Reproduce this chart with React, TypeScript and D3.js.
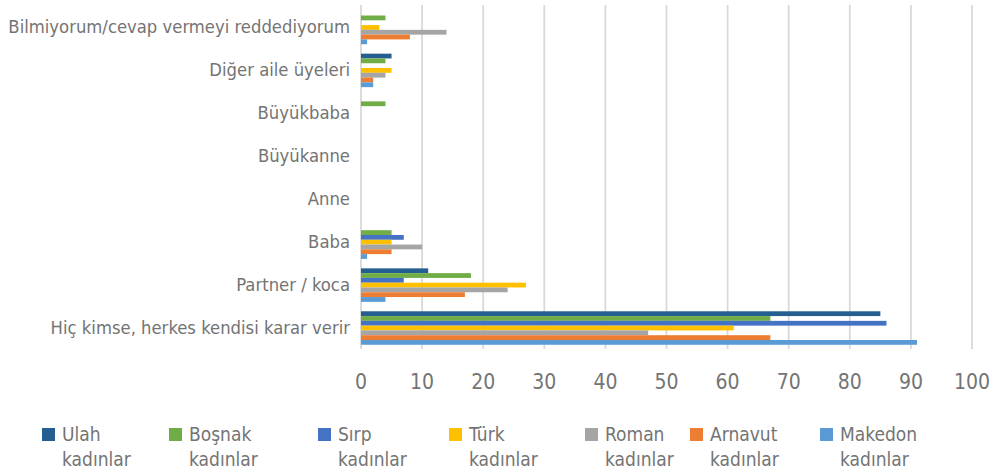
import React from "react";
import * as d3 from "d3";

const categories = [
  "Bilmiyorum/cevap vermeyi reddediyorum",
  "Diğer aile üyeleri",
  "Büyükbaba",
  "Büyükanne",
  "Anne",
  "Baba",
  "Partner / koca",
  "Hiç kimse, herkes kendisi karar verir",
];

const seriesNames = [
  "Ulah kadınlar",
  "Boşnak kadınlar",
  "Sırp kadınlar",
  "Türk kadınlar",
  "Roman kadınlar",
  "Arnavut kadınlar",
  "Makedon kadınlar",
];

const seriesColors = ["#255e91", "#70ad47", "#4472c4", "#ffc000", "#a5a5a5", "#ed7d31", "#5b9bd5"];

// values per series, in category order (top to bottom)
const ulah = [0, 5, 0, 0, 0, 0, 11, 85];
const bosnak = [4, 4, 4, 0, 0, 5, 18, 67];
const sirp = [0, 0, 0, 0, 0, 7, 7, 86];
const turk = [3, 5, 0, 0, 0, 5, 27, 61];
const roman = [14, 4, 0, 0, 0, 10, 24, 47];
const arnavut = [8, 2, 0, 0, 0, 5, 17, 67];
const makedon = [1, 2, 0, 0, 0, 1, 4, 91];

const seriesValues = [ulah, bosnak, sirp, turk, roman, arnavut, makedon];
const xTicks = [0, 10, 20, 30, 40, 50, 60, 70, 80, 90, 100];

// legend x positions (Excel wraps the labels unevenly)
const legendX = [42, 169, 318, 449, 585, 690, 820];

const FONT = "'DejaVu Sans Condensed', Roboto, sans-serif";
const TEXT = "#747474";

export default function App() {
  const width = 999;
  const height = 474;

  const x = d3.scaleLinear().domain([0, 100]).range([361, 972]);
  const y = d3.scaleBand<string>()
    .domain(categories)
    .range([6, 349.5])
    .paddingInner(0.22)
    .paddingOuter(0.11);
  const ySub = d3.scaleBand<number>()
    .domain(d3.range(seriesNames.length))
    .range([0, y.bandwidth()]);

  return (
    <svg
      width={width}
      height={height}
      style={{ position: "absolute", left: 0, top: 0, background: "#fff" }}
      fontFamily={FONT}
    >
      {/* gridlines */}
      {xTicks.map(t => (
        <line key={t} x1={x(t)} x2={x(t)} y1={5} y2={349} stroke="#d9d9d9" strokeWidth={1.8} />
      ))}

      {/* bars */}
      {categories.map((c, ci) => (
        <g key={c} transform={`translate(0,${y(c)})`}>
          {seriesValues.map((vals, si) =>
            vals[ci] > 0 ? (
              <rect
                key={si}
                x={x(0)}
                y={ySub(si)}
                width={x(vals[ci]) - x(0)}
                height={ySub.bandwidth()}
                fill={seriesColors[si]}
              />
            ) : null
          )}
        </g>
      ))}

      {/* category labels */}
      {categories.map(c => (
        <text
          key={c}
          x={350}
          y={y(c)! + y.bandwidth() / 2 - 1}
          textAnchor="end"
          dominantBaseline="central"
          fontSize={18.3}
          fill={TEXT}
        >
          {c}
        </text>
      ))}

      {/* x tick labels */}
      {xTicks.map(t => (
        <text key={t} x={x(t)} y={382} textAnchor="middle" dominantBaseline="central" fontSize={21} fill={TEXT}>
          {t}
        </text>
      ))}

      {/* legend */}
      {seriesNames.map((name, i) => {
        const [first, second] = name.split(" ");
        return (
          <g key={name} transform={`translate(${legendX[i]},0)`}>
            <rect x={0} y={428} width={13} height={13} fill={seriesColors[i]} />
            <text x={20} y={434} dominantBaseline="central" fontSize={19} fill={TEXT}>
              {first}
            </text>
            <text x={20} y={459} dominantBaseline="central" fontSize={19} fill={TEXT}>
              {second}
            </text>
          </g>
        );
      })}
    </svg>
  );
}
